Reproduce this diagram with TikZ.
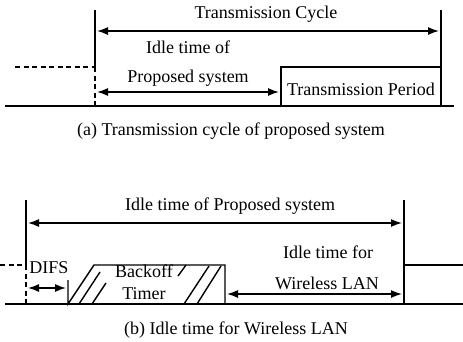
\documentclass[tikz,border=0pt]{standalone}
\usepackage{fontspec}
\setmainfont{Liberation Serif}
\usetikzlibrary{arrows.meta}
\tikzstyle{span} = [{Latex[length=11pt,width=8pt]}-{Latex[length=11pt,width=8pt]}, line width=1.4pt]
\tikzstyle{txt} = [font=\fontsize{18}{20}\selectfont, inner sep=0pt]
\tikzstyle{rule} = [line width=1.4pt]
\tikzstyle{dashrule} = [line width=1.4pt, dash pattern=on 5pt off 3.5pt]

\begin{document}
\begin{tikzpicture}[x=1pt,y=-1pt]
\useasboundingbox (0,0) rectangle (463,341);
% (a) transmission cycle
\coordinate (abl) at (5,106);
\coordinate (abr) at (454,106);
\coordinate (alt) at (95,10);
\coordinate (alm) at (95,67);
\coordinate (alb) at (95,106);
\coordinate (adl) at (15,67);
\coordinate (art) at (441,10);
\coordinate (arb) at (441,106);
\coordinate (apb) at (281,106);
\coordinate (apt) at (281,67);
\coordinate (apr) at (441,67);
\draw[rule] (abl) -- (abr);
\draw[rule] (alt) -- (alm);
\draw[dashrule] (alm) -- (alb);
\draw[dashrule] (adl) -- (alm);
\draw[rule] (art) -- (arb);
\draw[rule] (apb) -- (apt) -- (apr);
\coordinate (ac1) at (97,31);
\coordinate (ac2) at (439,31);
\draw[span] (ac1) -- (ac2);
\coordinate (ai1) at (97,92);
\coordinate (ai2) at (279,92);
\draw[span] (ai1) -- (ai2);
\node[txt] (cycle) at (266,14) {Transmission Cycle};
\node[txt] (idle1) at (188,47) {Idle time of};
\node[txt] (idle2) at (188,78) {Proposed system};
\node[txt] (period) at (361,89) {Transmission Period};
\node[txt] (capa) at (231,131) {(a) Transmission cycle of proposed system};
% (b) idle time for wireless LAN
\coordinate (bbl) at (5,304);
\coordinate (bbr) at (463,304);
\coordinate (blt) at (26,200);
\coordinate (blm) at (26,265);
\coordinate (blb) at (26,304);
\coordinate (bdl) at (0,265);
\coordinate (brt) at (404,200);
\coordinate (brb) at (404,304);
\coordinate (brm) at (404,265);
\coordinate (brr) at (463,265);
\draw[rule] (bbl) -- (bbr);
\draw[rule] (blt) -- (blm);
\draw[dashrule] (blm) -- (blb);
\draw[dashrule] (bdl) -- (blm);
\draw[rule] (brt) -- (brb);
\draw[rule] (brm) -- (brr);
\coordinate (bi1) at (28,223);
\coordinate (bi2) at (402,223);
\draw[span] (bi1) -- (bi2);
\coordinate (bd1) at (28,288);
\coordinate (bd2) at (66,288);
\draw[span] (bd1) -- (bd2);
\coordinate (bkt) at (68,280);
\coordinate (bk1) at (68,304);
\coordinate (bk2) at (94,265);
\coordinate (bk3) at (225,265);
\coordinate (bk4) at (225,304);
\draw[rule] (bkt) -- (bk1) -- (bk2) -- (bk3) -- (bk4);
\draw[rule] (79,304) -- (100,272);
\draw[rule] (92,304) -- (106,283);
\draw[rule] (178,276) -- (186,265);
\draw[rule] (184,304) -- (209,266);
\draw[rule] (197,304) -- (221,266);
\coordinate (bw1) at (227,294);
\coordinate (bw2) at (402,294);
\draw[span] (bw1) -- (bw2);
\node[txt] (idle3) at (230,206) {Idle time of Proposed system};
\node[txt] (difs) at (49,268) {DIFS};
\node[txt] (backoff) at (144,271) {Backoff};
\node[txt] (timer) at (144,294) {Timer};
\node[txt] (wl1) at (328,252) {Idle time for};
\node[txt] (wl2) at (327,283) {Wireless LAN};
\node[txt] (capb) at (236,330) {(b) Idle time for Wireless LAN};
\end{tikzpicture}
\end{document}
